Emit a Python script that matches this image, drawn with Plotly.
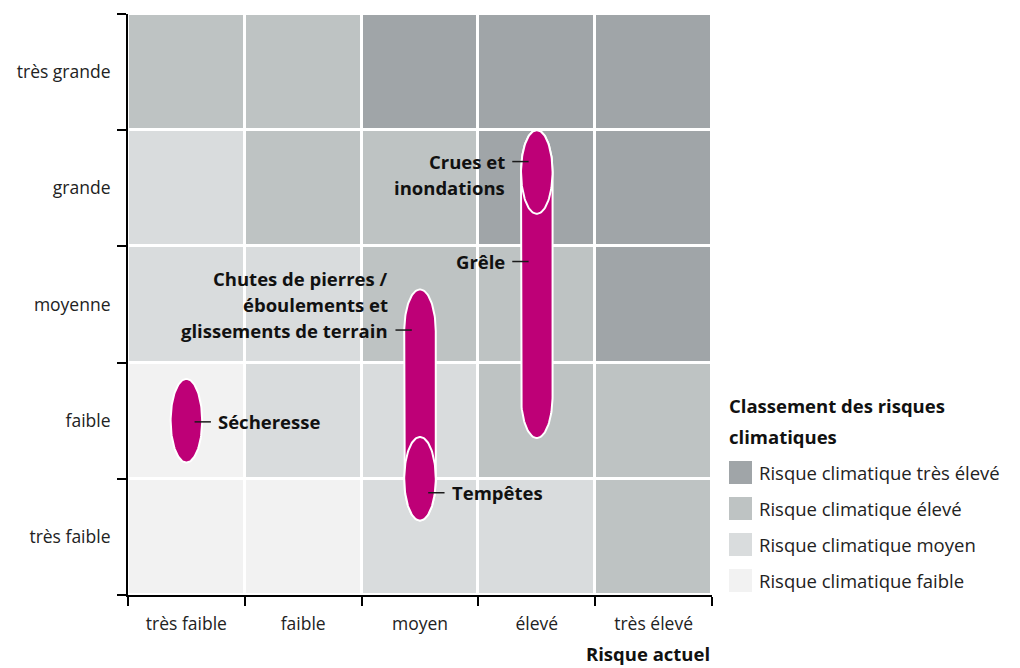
import numpy as np
import plotly.graph_objects as go

# ---------------- data ----------------
x_labels = ["très faible", "faible", "moyen", "élevé", "très élevé"]
y_labels = ["très faible", "faible", "moyenne", "grande", "très grande"]

class_names = ["Risque climatique faible", "Risque climatique moyen",
               "Risque climatique élevé", "Risque climatique très élevé"]
class_colors = ["#F2F2F2", "#D9DCDD", "#BEC3C3", "#A0A5A8"]

# risk class per cell, rows from "très faible" (bottom) to "très grande" (top)
z_row_tres_faible = [0, 0, 1, 1, 2]
z_row_faible      = [0, 1, 1, 2, 2]
z_row_moyenne     = [1, 1, 2, 2, 3]
z_row_grande      = [1, 2, 2, 3, 3]
z_row_tres_grande = [2, 2, 3, 3, 3]

# risks: current risk (x position) and future range (y low/high centre)
risk_names   = ["Chutes de pierres / éboulements et glissements de terrain",
                "Tempêtes", "Grêle", "Crues et inondations", "Sécheresse"]
risk_x       = [2.5, 2.5, 3.5, 3.5, 0.5]
risk_y_low   = [1.00, 1.00, 1.71, 3.64, 1.50]
risk_y_high  = [2.27, 1.00, 3.64, 3.64, 1.50]
label_y      = [2.28, 0.88, 2.87, 3.73, 1.49]
label_side   = ["left", "right", "left", "left", "right"]
label_lines  = [["Chutes de pierres /", "éboulements et", "glissements de terrain"],
                ["Tempêtes"], ["Grêle"], ["Crues et", "inondations"], ["Sécheresse"]]
anchor_line  = [2, 0, 0, 0, 0]

x_title = "Risque actuel"
legend_title = ["Classement des risques", "climatiques"]

# ---------------- style ----------------
FONT = "Open Sans"
MAGENTA = "#BE0077"
W, H = 1020, 668
ML, MR, MT, MB = 128, 308, 14, 73
PW, PH = W - ML - MR, H - MT - MB
A_X, B_Y = 0.135, 0.36          # ellipse half-axes in data units
LEAD_IN, LEAD_OUT = 0.07, 0.21  # leader line start/end from centre

def px_x(p):
    return (p - ML) / PW

def px_y(p):
    return (H - MB - p) / PH

fig = go.Figure()

z = [z_row_tres_faible, z_row_faible, z_row_moyenne, z_row_grande, z_row_tres_grande]
n = len(class_colors)
colorscale = [[i / (n - 1), c] for i, c in enumerate(class_colors)]
fig.add_trace(go.Heatmap(
    x=[i + 0.5 for i in range(len(x_labels))],
    y=[i + 0.5 for i in range(len(y_labels))],
    z=z, zmin=0, zmax=n - 1, colorscale=colorscale, showscale=False,
    xgap=3, ygap=3, hoverinfo="skip"))

def capsule(cx, ylo, yhi):
    t1 = np.linspace(0, np.pi, 60)
    t2 = np.linspace(np.pi, 2 * np.pi, 60)
    xs = np.concatenate([cx + A_X * np.cos(t1), cx + A_X * np.cos(t2)])
    ys = np.concatenate([yhi + B_Y * np.sin(t1), ylo + B_Y * np.sin(t2)])
    return np.append(xs, xs[0]), np.append(ys, ys[0])

LABEL_FONT = dict(family=FONT, size=18.5, color="#111111", weight="bold")

annotations = []
for name, cx, ylo, yhi, ly, side, lines, al in zip(
        risk_names, risk_x, risk_y_low, risk_y_high, label_y, label_side,
        label_lines, anchor_line):
    xs, ys = capsule(cx, ylo, yhi)
    fig.add_trace(go.Scatter(x=xs, y=ys, mode="lines", fill="toself",
                             fillcolor=MAGENTA, line=dict(color="white", width=2),
                             hoverinfo="skip", showlegend=False, name=name))
    sgn = 1 if side == "right" else -1
    x_end = cx + sgn * LEAD_OUT
    fig.add_trace(go.Scatter(x=[cx + sgn * LEAD_IN, x_end], y=[ly, ly], mode="lines",
                             line=dict(color="#1a1a1a", width=1.5),
                             hoverinfo="skip", showlegend=False))
    for k, line in enumerate(lines):
        annotations.append(dict(
            x=x_end, y=ly, xref="x", yref="y", text=line, showarrow=False,
            xanchor="left" if side == "right" else "right", yanchor="middle",
            xshift=sgn * 5, yshift=(al - k) * 26, font=LABEL_FONT))

# axis title
annotations.append(dict(x=1, y=px_y(654), xref="paper", yref="paper", text=x_title,
                        showarrow=False, xanchor="right", yanchor="middle",
                        font=LABEL_FONT))

# legend (manual)
for i, t in enumerate(legend_title):
    annotations.append(dict(x=px_x(727), y=px_y(405 + 31 * i), xref="paper", yref="paper",
                            text=t, showarrow=False, xanchor="left", yanchor="middle",
                            font=LABEL_FONT))
shapes = []
for i, (nm, col) in enumerate(zip(class_names[::-1], class_colors[::-1])):
    cy = 472.5 + 36 * i
    shapes.append(dict(type="rect", xref="paper", yref="paper",
                       x0=px_x(729), x1=px_x(752), y0=px_y(cy + 11.5), y1=px_y(cy - 11.5),
                       fillcolor=col, line=dict(width=0)))
    annotations.append(dict(x=px_x(757), y=px_y(cy), xref="paper", yref="paper", text=nm,
                            showarrow=False, xanchor="left", yanchor="middle",
                            font=dict(family=FONT, size=18.5, color="#222222")))

axis_common = dict(
    range=[0, 5], showgrid=False, zeroline=False, showline=True, linecolor="black",
    linewidth=2, ticks="", ticklabelstandoff=12, fixedrange=True,
    tickfont=dict(family=FONT, size=17.5, color="#222222"),
    minor=dict(tickvals=[0, 1, 2, 3, 4, 5], ticks="outside", ticklen=9, tickwidth=2,
               tickcolor="black", showgrid=False))

fig.update_layout(
    width=W, height=H, margin=dict(l=ML, r=MR, t=MT, b=MB),
    paper_bgcolor="white", plot_bgcolor="white", showlegend=False,
    xaxis=dict(tickvals=[i + 0.5 for i in range(5)], ticktext=x_labels, **axis_common),
    yaxis=dict(tickvals=[i + 0.5 for i in range(5)], ticktext=y_labels, **axis_common),
    annotations=annotations, shapes=shapes)

fig.write_html("out.html", config={"displayModeBar": False},
               post_script="document.body.style.margin='0';document.body.style.overflow='hidden';")
